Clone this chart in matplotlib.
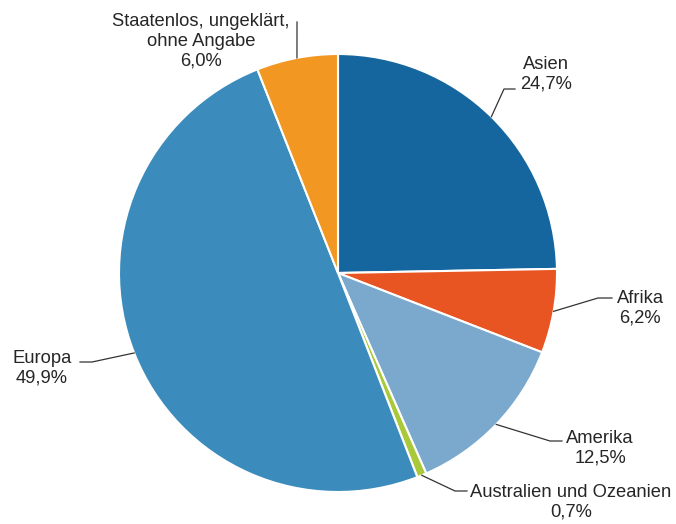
import matplotlib.pyplot as plt
import numpy as np

plt.rcParams['font.family'] = ['Liberation Sans', 'DejaVu Sans']

# Data
labels = ["Asien", "Afrika", "Amerika", "Australien und Ozeanien", "Europa",
          "Staatenlos, ungeklärt,\nohne Angabe"]
shares = [24.7, 6.2, 12.5, 0.7, 49.9, 6.0]
colors = ["#15669e", "#e85523", "#7aa9cd", "#a9c93b", "#3b8cbc", "#f29722"]

W, H = 676, 524
cx, cy, r = 338, H - 273, 219

fig = plt.figure(figsize=(W / 100, H / 100), dpi=100)
ax = fig.add_axes([0, 0, 1, 1])

wedges, _ = ax.pie(shares, colors=colors, startangle=90, counterclock=False,
                   center=(cx, cy), radius=r,
                   wedgeprops=dict(edgecolor='white', linewidth=1.5))

# pie() resets the limits, so set them afterwards
ax.set_xlim(0, W)
ax.set_ylim(0, H)
ax.set_aspect('equal')
ax.axis('off')

# elbow point, end of leader, text position (pixel coords, y down)
layout = [
    ((504, 89), (515, 89), (546, 74)),
    ((598, 298), (612, 298), (640, 308)),
    ((550, 441), (562, 441), (600, 448)),
    ((455, 491), (467, 491), (571, 502)),
    ((92, 362), (80, 362), (42, 368)),
    ((297, 22), (297, 22), (201, 41)),
]

cum = np.cumsum([0] + shares[:-1])
for i, (lab, val) in enumerate(zip(labels, shares)):
    mid = np.deg2rad(90 - (cum[i] + val / 2) * 3.6)
    ax0 = cx + r * np.cos(mid)
    ay0 = cy + r * np.sin(mid)
    (ex, ey), (lx, ly), (tx, ty) = layout[i]
    ax.plot([ax0, ex, lx], [ay0, H - ey, H - ly], color='#333333', lw=0.9)
    txt = lab + "\n" + ("%.1f%%" % val).replace(".", ",")
    ax.text(tx, H - ty, txt, ha='center', va='center', fontsize=13.2,
            color='#262626', linespacing=1.2)

fig.savefig('out.png', dpi=100)
